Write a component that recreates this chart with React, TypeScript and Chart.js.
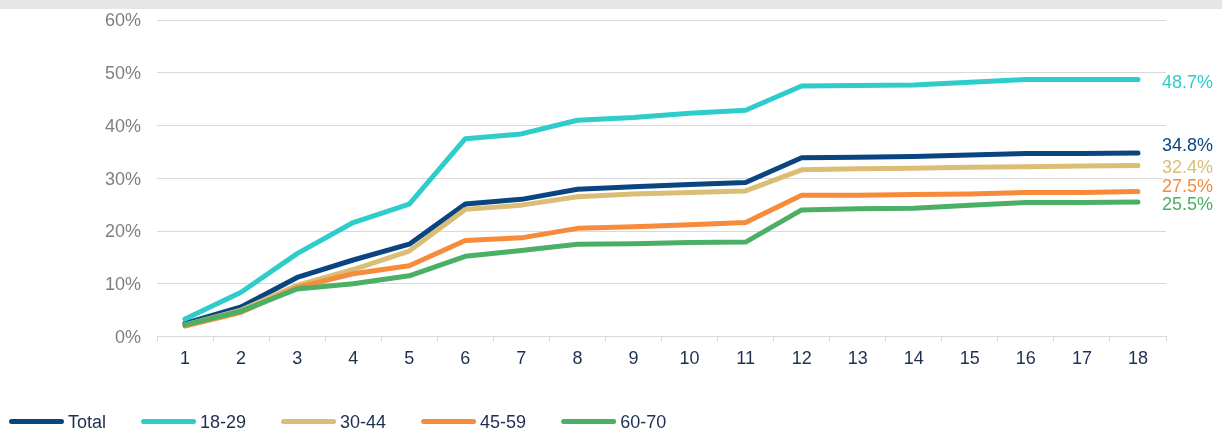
import React, { useEffect, useRef } from "react";
import { Chart, registerables } from "chart.js";

Chart.register(...registerables);

const categories = ["1", "2", "3", "4", "5", "6", "7", "8", "9", "10", "11", "12", "13", "14", "15", "16", "17", "18"];
const seriesNames = ["Total", "18-29", "30-44", "45-59", "60-70"];
const total = [2.5, 5.6, 11.2, 14.5, 17.5, 25.1, 26.0, 27.9, 28.4, 28.8, 29.2, 33.9, 34.0, 34.1, 34.4, 34.7, 34.7, 34.8];
const age18 = [3.3, 8.4, 15.7, 21.6, 25.1, 37.5, 38.4, 41.0, 41.5, 42.3, 42.9, 47.5, 47.6, 47.7, 48.2, 48.7, 48.7, 48.7];
const age30 = [2.2, 5.0, 9.7, 12.7, 16.2, 24.1, 24.9, 26.5, 27.0, 27.3, 27.6, 31.6, 31.8, 31.9, 32.1, 32.2, 32.3, 32.4];
const age45 = [2.0, 4.6, 9.3, 11.9, 13.4, 18.2, 18.7, 20.5, 20.8, 21.2, 21.6, 26.8, 26.8, 26.9, 27.0, 27.3, 27.3, 27.5];
const age60 = [2.2, 4.8, 9.0, 10.0, 11.5, 15.2, 16.3, 17.5, 17.6, 17.8, 17.9, 24.0, 24.2, 24.3, 24.9, 25.4, 25.4, 25.5];
const endLabels = ["34.8%", "48.7%", "32.4%", "27.5%", "25.5%"];
const yTicks = [0, 10, 20, 30, 40, 50, 60];

const colors = ["#0A4582", "#2ECCCB", "#DABE76", "#F68B3B", "#4BAF66"];
const labelNudge = [-6.5, 3.5, 2.5, -4.5, 3.5];
const FONT = "18px 'Liberation Sans', Arial, sans-serif";
const TEXT_DARK = "#1E2E4E";

const overlayPlugin = {
  id: "overlay",
  beforeDraw(chart: any) {
    const ctx = chart.ctx;
    ctx.save();
    ctx.fillStyle = "#E6E6E6";
    ctx.fillRect(0, 0, chart.width, 9);
    ctx.restore();
  },
  afterDraw(chart: any) {
    const ctx = chart.ctx;
    const yScale = chart.scales.y;
    ctx.save();
    ctx.font = FONT;
    ctx.textBaseline = "middle";
    ctx.textAlign = "left";
    chart.data.datasets.forEach((ds: any, i: number) => {
      const last = ds.data[ds.data.length - 1];
      const y = yScale.getPixelForValue(last) + labelNudge[i];
      ctx.fillStyle = colors[i];
      ctx.fillText(endLabels[i], chart.chartArea.right - 4, y);
    });
    // legend
    let x = 9;
    const ly = 421.5;
    seriesNames.forEach((name, i) => {
      ctx.strokeStyle = colors[i];
      ctx.lineWidth = 5;
      ctx.lineCap = "round";
      ctx.beginPath();
      ctx.moveTo(x + 2.5, ly);
      ctx.lineTo(x + 52.5, ly);
      ctx.stroke();
      ctx.fillStyle = TEXT_DARK;
      ctx.fillText(name, x + 59, ly + 1.5);
      x = x + 59 + ctx.measureText(name).width + 35;
    });
    ctx.restore();
  },
};

export default function App() {
  const ref = useRef<HTMLCanvasElement | null>(null);
  useEffect(() => {
    if (!ref.current) return;
    const seriesData = [total, age18, age30, age45, age60];
    const chart = new Chart(ref.current, {
      type: "line",
      data: {
        labels: categories,
        datasets: seriesNames.map((name, i) => ({
          label: name,
          data: seriesData[i],
          borderColor: colors[i],
          backgroundColor: colors[i],
          borderWidth: 5,
          pointRadius: 0,
          pointHoverRadius: 0,
          tension: 0,
          borderCapStyle: "round" as const,
          borderJoinStyle: "round" as const,
          order: 4 - i,
        })),
      },
      options: {
        responsive: false,
        animation: false,
        events: [],
        layout: { padding: { top: 20, right: 56, bottom: 63.5, left: 0 } },
        plugins: {
          legend: { display: false },
          tooltip: { enabled: false },
          title: { display: false },
        },
        scales: {
          x: {
            type: "category",
            offset: true,
            grid: {
              display: true,
              drawOnChartArea: false,
              drawTicks: true,
              tickLength: 5,
              color: "#D9D9D9",
              offset: true,
            },
            border: { display: true, color: "#D9D9D9", width: 1 },
            ticks: {
              color: TEXT_DARK,
              font: { family: "'Liberation Sans', Arial, sans-serif", size: 18 },
              padding: 7,
              maxRotation: 0,
              autoSkip: false,
            },
            afterFit(scale: any) {
              scale.height = 30;
              scale.paddingLeft = 0;
              scale.paddingRight = 0;
            },
          },
          y: {
            min: 0,
            max: 60,
            afterBuildTicks(scale: any) {
              scale.ticks = yTicks.map((v) => ({ value: v }));
            },
            grid: { color: "#D9D9D9", lineWidth: 1, drawTicks: false },
            border: { display: false },
            ticks: {
              color: "#7F7F7F",
              font: { family: "'Liberation Sans', Arial, sans-serif", size: 18 },
              padding: 16,
              labelOffset: 1.5,
              callback: (v: any) => v + "%",
            },
            afterFit(scale: any) {
              scale.width = 157;
              scale.paddingTop = 0;
              scale.paddingBottom = 0;
            },
          },
        },
      },
      plugins: [overlayPlugin],
    });
    return () => chart.destroy();
  }, []);
  return (
    <div style={{ position: "absolute", left: 0, top: 0, width: 1222, height: 430, background: "#FFFFFF" }}>
      <canvas ref={ref} width={1222} height={430} style={{ display: "block", width: 1222, height: 430 }} />
    </div>
  );
}
